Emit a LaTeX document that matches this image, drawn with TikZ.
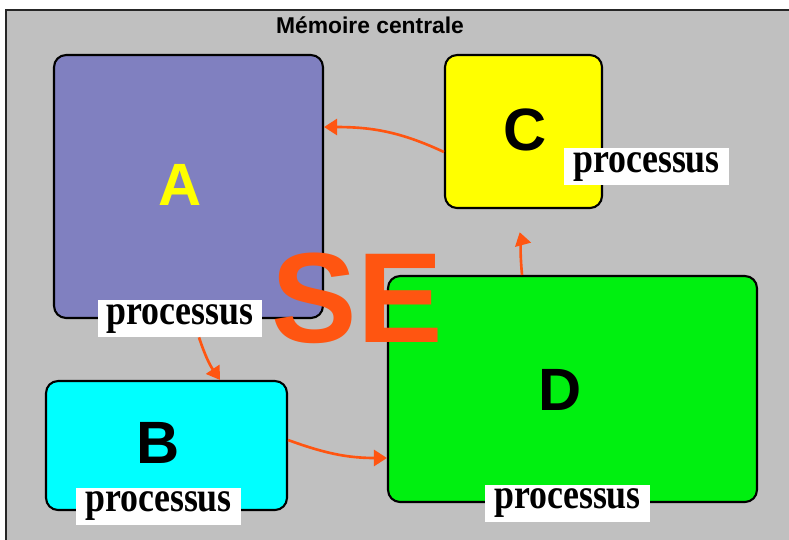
\documentclass[tikz,border=0pt]{standalone}
\usepackage{fontspec}
\setmainfont{Liberation Sans}
\newfontfamily\labelfont[FakeStretch=0.85]{Liberation Serif}
\usetikzlibrary{arrows.meta}
\definecolor{cframe}{HTML}{C0C0C0}
\definecolor{cpurple}{HTML}{8080C0}
\definecolor{ccyan}{HTML}{00FFFF}
\definecolor{cyellow}{HTML}{FFFF00}
\definecolor{cgreen}{HTML}{00F010}
\definecolor{corange}{HTML}{FF5511}
\tikzset{
  every picture/.style={x=0.02cm, y=-0.02cm},
  box/.style={draw=black, fill=#1, rounded corners=0.24cm, line width=1.2pt, inner sep=0pt},
  letter/.style={font=\fontsize{34}{34}\selectfont\bfseries},
  proc/.style={fill=white, inner sep=0pt, minimum width=3.3cm, minimum height=0.74cm,
    font=\labelfont\fontsize{24}{24}\selectfont\bfseries},
  flow/.style={-{Triangle[length=2.6mm, width=3.2mm]}, draw=corange, line width=1.5pt},
}

\begin{document}
\begin{tikzpicture}
  \useasboundingbox (0,0) rectangle (789,539);
  % memory frame, border on the left and top only
  \fill[cframe] (6,10) rectangle (790,540);
  \draw[line width=1.2pt, black!85] (6,540) -- (6,10) -- (790,10);
  \node[font=\fontsize{13}{13}\selectfont\bfseries] (title) at (370,25) {Mémoire centrale};
  % processes
  \node[box=cpurple, minimum width=5.38cm, minimum height=5.26cm] (A) at (188.5,186.5) {};
  \node[box=cyellow, minimum width=3.14cm, minimum height=3.06cm] (C) at (523.5,131.5) {};
  \node[box=ccyan, minimum width=4.82cm, minimum height=2.58cm] (B) at (166.5,445.5) {};
  \node[box=cgreen, minimum width=7.38cm, minimum height=4.52cm] (D) at (572.5,389) {};
  \node[letter, text=cyellow] (la) at (180,185) {A};
  \node[letter] (lc) at (525,130) {C};
  \node[letter] (lb) at (158,443) {B};
  \node[letter] (ld) at (560,390) {D};
  \node[proc] (pa) at (180,318.5) {processus};
  \node[proc] (pc) at (646.5,166.5) {processus};
  \node[proc] (pb) at (158.5,506) {processus};
  \node[proc] (pd) at (567.5,503) {processus};
  % the cycle of the system
  \draw[flow] ([xshift=0.38cm]pa.south) to[bend right=8] ([xshift=1.07cm]B.north);
  \draw[flow] ([yshift=0.11cm]B.east) to[out=-20, in=180] ([yshift=-1.38cm]D.west);
  \draw[flow, shorten >=0.48cm] ([xshift=-1.01cm]D.north) to[out=95, in=-75] ([xshift=-0.2cm]C.south);
  \draw[flow] ([yshift=-0.41cm]C.west) to[out=155, in=0] ([yshift=1.19cm]A.east);
  \node[text=corange, font=\fontsize{73}{73}\selectfont\bfseries] (se) at (357,298) {SE};
\end{tikzpicture}
\end{document}
